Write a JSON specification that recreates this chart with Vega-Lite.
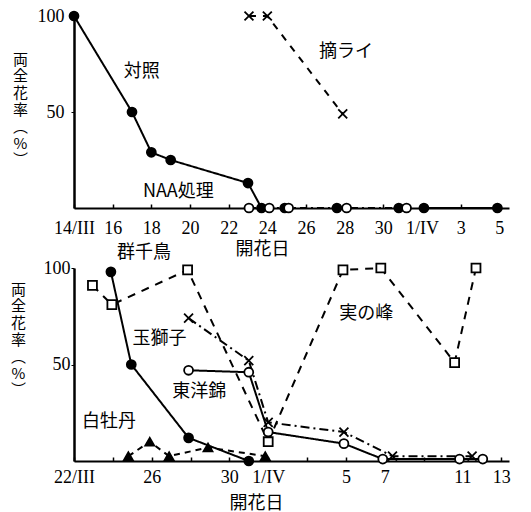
{
  "$schema": "https://vega.github.io/schema/vega-lite/v6.json",
  "background": "white",
  "padding": {"left": 10, "top": 7, "right": 5, "bottom": 0},
  "config": {
    "view": {"stroke": null},
    "axis": {
      "grid": false,
      "domainColor": "black",
      "tickColor": "black",
      "labelColor": "black",
      "titleColor": "black",
      "labelFont": "Liberation Serif",
      "labelFontSize": 18,
      "labelOverlap": false,
      "titleFont": "Noto Sans CJK JP",
      "titleFontWeight": "normal",
      "titleFontSize": 18
    },
    "text": {"font": "Noto Sans CJK JP", "fontSize": 18, "color": "black"}
  },
  "datasets": {
    "top": [
      {"series": "対照", "day": 14, "value": 100},
      {"series": "対照", "day": 17, "value": 50},
      {"series": "対照", "day": 18, "value": 29},
      {"series": "対照", "day": 19, "value": 25},
      {"series": "対照", "day": 23, "value": 13},
      {"series": "対照", "day": 23.7, "value": 0},
      {"series": "対照-0", "day": 24.9, "value": 0},
      {"series": "対照-0", "day": 27.6, "value": 0},
      {"series": "対照-0", "day": 30.8, "value": 0},
      {"series": "対照-後", "day": 32.1, "value": 0},
      {"series": "対照-後", "day": 35.9, "value": 0},
      {"series": "NAA処理", "day": 23.05, "value": 0},
      {"series": "NAA処理", "day": 24.1, "value": 0},
      {"series": "NAA処理", "day": 25.1, "value": 0},
      {"series": "NAA処理", "day": 28.1, "value": 0},
      {"series": "NAA処理", "day": 31.2, "value": 0},
      {"series": "摘ライ", "day": 23.05, "value": 100},
      {"series": "摘ライ", "day": 24, "value": 100},
      {"series": "摘ライ", "day": 27.9, "value": 49}
    ],
    "topText": [
      {"label": "対照", "day": 17.5, "value": 71},
      {"label": "摘ライ", "day": 28.07, "value": 81},
      {"label": "NAA処理", "day": 19.4, "value": 8.5}
    ],
    "bottom": [
      {"series": "群千鳥", "day": 23.9, "value": 98},
      {"series": "群千鳥", "day": 24.95, "value": 50},
      {"series": "群千鳥", "day": 27.9, "value": 12},
      {"series": "群千鳥", "day": 31, "value": 0},
      {"series": "白牡丹", "day": 24.8, "value": 2.5},
      {"series": "白牡丹", "day": 25.9, "value": 10},
      {"series": "白牡丹", "day": 26.9, "value": 2.5},
      {"series": "白牡丹", "day": 28.9, "value": 7},
      {"series": "白牡丹", "day": 31.85, "value": 2.5},
      {"series": "実の峰", "day": 22.95, "value": 91},
      {"series": "実の峰", "day": 23.95, "value": 81},
      {"series": "実の峰", "day": 27.85, "value": 99},
      {"series": "実の峰", "day": 32, "value": 10},
      {"series": "実の峰", "day": 35.85, "value": 99},
      {"series": "実の峰", "day": 37.8, "value": 100},
      {"series": "実の峰", "day": 41.6, "value": 51},
      {"series": "実の峰", "day": 42.7, "value": 100},
      {"series": "玉獅子", "day": 27.9, "value": 74},
      {"series": "玉獅子", "day": 31, "value": 52},
      {"series": "玉獅子", "day": 32, "value": 20},
      {"series": "玉獅子", "day": 35.9, "value": 15},
      {"series": "玉獅子", "day": 38.4, "value": 2.5},
      {"series": "玉獅子", "day": 42.5, "value": 2.5},
      {"series": "東洋錦", "day": 27.9, "value": 47},
      {"series": "東洋錦", "day": 31, "value": 46},
      {"series": "東洋錦", "day": 32, "value": 15},
      {"series": "東洋錦", "day": 35.9, "value": 9},
      {"series": "東洋錦", "day": 37.9, "value": 1},
      {"series": "東洋錦", "day": 41.85, "value": 1},
      {"series": "東洋錦", "day": 43.05, "value": 1}
    ],
    "bottomText": [
      {"label": "群千鳥", "day": 25.6, "value": 108},
      {"label": "玉獅子", "day": 26.4, "value": 63},
      {"label": "東洋錦", "day": 28.45, "value": 36},
      {"label": "白牡丹", "day": 23.8, "value": 20},
      {"label": "実の峰", "day": 37.05, "value": 76}
    ]
  },
  "spacing": 60,
  "bounds": "flush",
  "resolve": {"scale": {"shape": "independent", "fill": "independent", "size": "independent", "strokeDash": "independent"}},
  "vconcat": [
    {
      "width": 435,
      "height": 192,
      "data": {"name": "top"},
      "encoding": {
        "x": {
          "field": "day", "type": "quantitative",
          "scale": {"domain": [14, 36.5], "nice": false, "zero": false},
          "axis": {
            "values": [14, 16, 18, 20, 22, 24, 26, 28, 30, 32, 34, 36],
            "labelExpr": "datum.value == 14 ? '14/III' : datum.value == 32 ? '1/IV' : datum.value > 32 ? '' + (datum.value - 31) : '' + datum.value",
            "labelOverlap": false, "labelFlush": false,
            "tickSize": -4, "tickWidth": 1.5, "labelPadding": 15,
            "domainWidth": 2,
            "title": "開花日", "titleX": 188, "titleY": 41, "titleBaseline": "middle", "titleAlign": "center"
          }
        },
        "y": {
          "field": "value", "type": "quantitative",
          "scale": {"domain": [0, 100], "nice": false},
          "axis": {
            "values": [50, 100], "tickSize": 3, "labelPadding": 7, "domainWidth": 2.5,
            "title": ["両", "全", "花", "率", "︵", "%", "︶"],
            "titleAngle": 0, "titleAlign": "center", "titleBaseline": "top",
            "titleX": -54, "titleY": 36, "titleLineHeight": 16.8, "titleFontSize": 15
          }
        }
      },
      "layer": [
        {
          "transform": [{"filter": "datum.series != '対照-0'"}],
          "mark": {"type": "line", "color": "black", "strokeWidth": 2},
          "encoding": {
            "strokeDash": {
              "field": "series", "type": "nominal",
              "scale": {"domain": ["対照", "対照-後", "NAA処理", "摘ライ"], "range": [[1, 0], [1, 0], [7, 4, 2, 4], [7, 7]]},
              "legend": null
            }
          }
        },
        {
          "mark": {"type": "point", "filled": true, "stroke": "black", "strokeWidth": 1.8, "opacity": 1},
          "encoding": {
            "shape": {
              "field": "series", "type": "nominal",
              "scale": {"domain": ["対照", "対照-0", "対照-後", "NAA処理", "摘ライ"], "range": ["circle", "circle", "circle", "circle", "M-1,-1L1,1M-1,1L1,-1"]},
              "legend": null
            },
            "fill": {
              "field": "series", "type": "nominal",
              "scale": {"domain": ["対照", "対照-0", "対照-後", "NAA処理", "摘ライ"], "range": ["black", "black", "black", "white", "transparent"]},
              "legend": null
            },
            "size": {
              "field": "series", "type": "nominal",
              "scale": {"domain": ["対照", "対照-0", "対照-後", "NAA処理", "摘ライ"], "range": [80, 80, 80, 90, 110]},
              "legend": null
            }
          }
        },
        {
          "data": {"name": "topText"},
          "mark": {"type": "text"},
          "encoding": {
            "text": {"field": "label"}
          }
        }
      ]
    },
    {
      "width": 435,
      "height": 193,
      "data": {"name": "bottom"},
      "encoding": {
        "x": {
          "field": "day", "type": "quantitative",
          "scale": {"domain": [22, 44.4], "nice": false, "zero": false},
          "axis": {
            "values": [22, 24, 26, 28, 30, 32, 34, 36, 38, 40, 42, 44],
            "labelExpr": "indexof([24, 28, 34, 40], datum.value) >= 0 ? '' : datum.value == 22 ? '22/III' : datum.value == 32 ? '1/IV' : datum.value > 32 ? '' + (datum.value - 31) : '' + datum.value",
            "labelOverlap": false, "labelFlush": false,
            "tickSize": -4, "tickWidth": 1.5, "labelPadding": 11,
            "domainWidth": 2,
            "title": "開花日", "titleX": 182, "titleY": 42, "titleBaseline": "middle", "titleAlign": "center"
          }
        },
        "y": {
          "field": "value", "type": "quantitative",
          "scale": {"domain": [0, 100], "nice": false},
          "axis": {
            "values": [50, 100], "tickSize": 3, "labelPadding": 1, "domainWidth": 2.5,
            "title": ["両", "全", "花", "率", "︵", "%", "︶"],
            "titleAngle": 0, "titleAlign": "center", "titleBaseline": "top",
            "titleX": -56, "titleY": 14, "titleLineHeight": 16.8, "titleFontSize": 15
          }
        }
      },
      "layer": [
        {
          "mark": {"type": "line", "color": "black", "strokeWidth": 2},
          "encoding": {
            "strokeDash": {
              "field": "series", "type": "nominal",
              "scale": {"domain": ["群千鳥", "白牡丹", "実の峰", "玉獅子", "東洋錦"], "range": [[1, 0], [6, 5], [8, 7], [9, 4, 2, 4], [1, 0]]},
              "legend": null
            }
          }
        },
        {
          "mark": {"type": "point", "filled": true, "stroke": "black", "strokeWidth": 1.8, "opacity": 1},
          "encoding": {
            "shape": {
              "field": "series", "type": "nominal",
              "scale": {"domain": ["群千鳥", "白牡丹", "実の峰", "玉獅子", "東洋錦"], "range": ["circle", "triangle-up", "square", "M-1,-1L1,1M-1,1L1,-1", "circle"]},
              "legend": null
            },
            "fill": {
              "field": "series", "type": "nominal",
              "scale": {"domain": ["群千鳥", "白牡丹", "実の峰", "玉獅子", "東洋錦"], "range": ["black", "black", "white", "transparent", "white"]},
              "legend": null
            },
            "size": {
              "field": "series", "type": "nominal",
              "scale": {"domain": ["群千鳥", "白牡丹", "実の峰", "玉獅子", "東洋錦"], "range": [80, 80, 80, 110, 90]},
              "legend": null
            }
          }
        },
        {
          "data": {"name": "bottomText"},
          "mark": {"type": "text"},
          "encoding": {
            "text": {"field": "label"}
          }
        }
      ]
    }
  ]
}
